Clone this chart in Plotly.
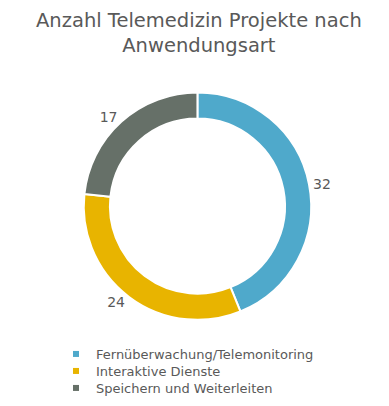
import plotly.graph_objects as go

title_lines = ["Anzahl Telemedizin Projekte nach", "Anwendungsart"]
labels = ["Fernüberwachung/Telemonitoring", "Interaktive Dienste", "Speichern und Weiterleiten"]
values = [32, 24, 17]
colors = ["#4FA9CB", "#E8B400", "#667068"]
FONT = "DejaVu Sans"
GREY = "#595959"

fig = go.Figure()
fig.add_trace(go.Pie(
    labels=labels, values=values, hole=0.77, sort=False, direction="clockwise",
    rotation=0, showlegend=False,
    marker=dict(colors=colors, line=dict(color="white", width=2)),
    textinfo="value", textposition="outside",
    textfont=dict(family=FONT, size=14, color=GREY),
    domain=dict(x=[0.0, 0.974], y=[0.232, 0.792]),
))

legend_names = ["legend", "legend2", "legend3"]
legend_tops = [331, 348, 365]
layout_legends = {}
for name, lab, col, top in zip(legend_names, labels, colors, legend_tops):
    fig.add_trace(go.Scatter(
        x=[None], y=[None], mode="markers", name=lab, legend=name,
        marker=dict(symbol="square", size=6, color=col),
        showlegend=True,
    ))
    layout_legends[name] = dict(
        x=0.1234, xanchor="left", y=1 - top / 406, yanchor="top",
        font=dict(family=FONT, size=13, color=GREY),
        bgcolor="rgba(0,0,0,0)", itemwidth=30,
    )

fig.update_layout(
    width=389, height=406,
    margin=dict(l=0, r=0, t=0, b=0, autoexpand=False),
    paper_bgcolor="white", plot_bgcolor="white",
    xaxis=dict(visible=False), yaxis=dict(visible=False),
    annotations=[dict(
        text="<br>".join(title_lines), x=0.491, xref="paper", xanchor="center",
        y=1 - 25 / 406, yref="paper", yanchor="middle", showarrow=False,
        font=dict(family=FONT, size=19.5, color=GREY),
    )],
    **layout_legends,
)
fig.write_html("out.html")
